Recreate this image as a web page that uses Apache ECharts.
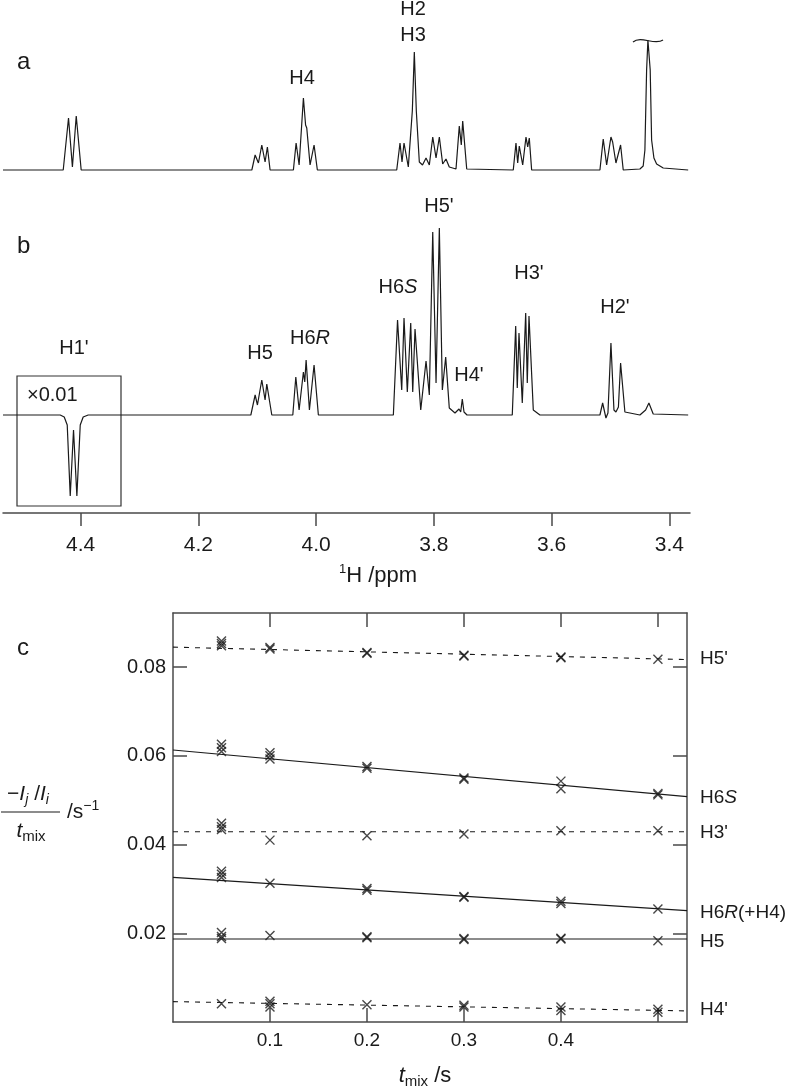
<!DOCTYPE html>
<html>
<head>
<meta charset="utf-8">
<script src="https://cdn.jsdelivr.net/npm/echarts@6.0.0/dist/echarts.min.js"></script>
<style>
html, body { margin: 0; padding: 0; background: #fff; }
#chart { width: 800px; height: 1092px; }
</style>
</head>
<body>
<div id="chart"></div>
<script>
// spectrum axis (ppm, reversed)
const ppmMin = 3.365;
const ppmMax = 4.532;
const ppmTicks = [4.4, 4.2, 4.0, 3.8, 3.6, 3.4];

// trace a: 1D reference spectrum, [ppm, height]
const specA = [
  [4.532, 0],
  [4.4297, 0], [4.4207, 52], [4.4141, 3], [4.4076, 54], [4.3992, 0],
  [4.1093, 0], [4.1037, 15], [4.0981, 7], [4.0924, 25], [4.0868, 8], [4.0829, 23], [4.0783, 0],
  [4.0387, 0], [4.0341, 27], [4.0290, 5], [4.0217, 72], [4.0180, 45], [4.0160, 42], [4.0104, 5], [4.0036, 25], [3.9980, 0],
  [3.8632, 0], [3.8576, 27], [3.8542, 8], [3.8508, 27], [3.8435, 3], [3.8406, 4], [3.8367, 59], [3.8333, 118],
  [3.8299, 59], [3.8248, 8], [3.8194, 5], [3.8134, 12], [3.8078, 5], [3.8020, 33], [3.7964, 12], [3.7908, 33],
  [3.7851, 6], [3.7795, 11], [3.7739, 3], [3.7625, 1], [3.7569, 44], [3.7535, 25], [3.7511, 49], [3.7443, 1],
  [3.6652, 0], [3.6606, 27], [3.6577, 7], [3.6550, 24], [3.6492, 5], [3.6436, 33], [3.6407, 23], [3.6380, 32], [3.6340, 0],
  [3.5540, 0], [3.5520, 2], [3.5500, 0],
  [3.5180, 0], [3.5124, 31], [3.5066, 5], [3.4993, 33], [3.4964, 28], [3.4908, 7], [3.4829, 25], [3.4784, 0],
  [3.4501, 1], [3.4445, 4], [3.4416, 20], [3.4387, 100], [3.4365, 130], [3.4343, 130], [3.4326, 100],
  [3.4302, 30], [3.4263, 12], [3.4217, 6], [3.4105, 2], [3.3681, 0]
];

// trace b: selective NOESY, H1' inverted and scaled x0.01
const specB = [
  [4.532, 0],
  [4.4348, 0], [4.4280, -2], [4.4229, -10], [4.4178, -81], [4.4122, -15], [4.4065, -81], [4.4008, -10], [4.3958, -2], [4.3873, 0],
  [4.1110, 0], [4.1037, 20], [4.0998, 10], [4.0924, 35], [4.0868, 15], [4.0839, 31], [4.0754, 0],
  [4.0397, 0], [4.0346, 38], [4.0290, 5], [4.0217, 43], [4.0194, 33], [4.0171, 55], [4.0115, 5], [4.0036, 50], [3.9963, 0],
  [3.8689, 0], [3.8618, 95], [3.8547, 25], [3.8508, 97], [3.8452, 23], [3.8394, 92], [3.8360, 23], [3.8321, 86],
  [3.8224, 5], [3.8134, 54], [3.8078, 20], [3.8020, 183], [3.7964, 32], [3.7908, 187], [3.7857, 25], [3.7800, 58],
  [3.7739, 7], [3.7642, 2], [3.7574, 6], [3.7545, 3], [3.7518, 16], [3.7489, 3], [3.7438, 0],
  [3.6669, 0], [3.6611, 89], [3.6584, 27], [3.6555, 82], [3.6499, 12], [3.6441, 102], [3.6414, 32], [3.6385, 99], [3.6312, 5], [3.6199, 0],
  [3.5180, 0], [3.5134, 12], [3.5078, -3], [3.5044, 2], [3.4993, 72], [3.4942, 5], [3.4908, 3], [3.4866, 8],
  [3.4829, 52], [3.4756, 3], [3.4501, 0], [3.4404, 5], [3.4348, 12], [3.4275, 1], [3.3681, 0]
];

// panel c: build-up rates vs mixing time
const tmix = [0.05, 0.1, 0.2, 0.3, 0.4, 0.5];
const tTicks = [0.1, 0.2, 0.3, 0.4, 0.5];
const tLabels = [0.1, 0.2, 0.3, 0.4];
const rTicks = [0.02, 0.04, 0.06, 0.08];

const rateH5p = [[0.0859, 0.0853, 0.0848], [0.0844, 0.0841], [0.0833, 0.0831], [0.0827, 0.0825], [0.0823, 0.0821], [0.0818]];
const rateH6S = [[0.0626, 0.0618, 0.0610], [0.0607, 0.0600, 0.0593], [0.0576, 0.0572], [0.0550, 0.0547], [0.0543, 0.0526], [0.0515, 0.0512]];
const rateH3p = [[0.0448, 0.0440, 0.0434], [0.0410], [0.0420], [0.0424], [0.0431], [0.0431]];
const rateH6R = [[0.0340, 0.0333, 0.0326], [0.0313], [0.0301, 0.0297], [0.0283, 0.0281], [0.0272, 0.0267], [0.0255]];
const rateH5 = [[0.0202, 0.0193, 0.0188], [0.0195], [0.0192, 0.0190], [0.0188, 0.0186], [0.0189, 0.0187], [0.0183]];
const rateH4p = [[0.0041], [0.0047, 0.0041, 0.0034], [0.0039], [0.0038, 0.0034], [0.0034, 0.0026], [0.0029, 0.0022]];

// fitted lines, value at t = 0 and t = 0.53
const fitT = [0, 0.53];
const fitH5p = [0.0845, 0.0817];
const fitH6S = [0.0613, 0.0508];
const fitH3p = [0.0429, 0.0429];
const fitH6R = [0.0326, 0.0251];
const fitH5 = [0.0187, 0.0187];
const fitH4p = [0.0046, 0.0025];

const font = 'Liberation Sans, Arial, sans-serif';
const ink = '#1a1a1a';
const frame = '#4a4a4a';

function reps(vals) {
  const out = [];
  vals.forEach((arr, i) => arr.forEach(v => out.push([tmix[i], v])));
  return out;
}
function fit(vals, dashed) {
  return {
    type: 'line', xAxisIndex: 2, yAxisIndex: 2,
    data: fitT.map((t, i) => [t, vals[i]]),
    showSymbol: false, silent: true,
    lineStyle: { color: ink, width: 1.1, type: dashed ? [5, 6] : 'solid' }
  };
}
function marks(vals) {
  return {
    type: 'scatter', xAxisIndex: 2, yAxisIndex: 2,
    data: reps(vals),
    symbol: 'path://M0 0L10 10M10 0L0 10',
    symbolSize: 9,
    itemStyle: { color: 'rgba(0,0,0,0)', borderColor: ink, borderWidth: 1.4 }
  };
}
function txt(x, y, text, opts) {
  return {
    type: 'text', x: x, y: y,
    style: Object.assign({
      text: text, fontSize: 20, fontFamily: font, fill: ink,
      align: 'center', verticalAlign: 'middle'
    }, opts || {})
  };
}
const richIt = {
  n: { fontSize: 20, fontFamily: font, fill: ink },
  i: { fontSize: 20, fontFamily: font, fontStyle: 'italic', fill: ink }
};
const richIt19 = {
  n: { fontSize: 19, fontFamily: font, fill: ink },
  i: { fontSize: 19, fontFamily: font, fontStyle: 'italic', fill: ink }
};

const chart = echarts.init(document.getElementById('chart'));

chart.setOption({
  animation: false,
  grid: [
    { left: 3, right: 110, top: 20, height: 160 },
    { left: 3, right: 110, top: 190, height: 323 },
    { left: 173, right: 113, top: 613, height: 409 }
  ],
  xAxis: [
    { gridIndex: 0, type: 'value', min: ppmMin, max: ppmMax, inverse: true, show: false },
    {
      gridIndex: 1, type: 'value', min: ppmMin, max: ppmMax, inverse: true,
      axisLine: { onZero: false, lineStyle: { color: frame, width: 1.5 } },
      axisTick: { customValues: ppmTicks, length: 13, lineStyle: { color: frame, width: 1.5 } },
      axisLabel: { customValues: ppmTicks, formatter: v => v.toFixed(1), fontSize: 21, fontFamily: font, color: ink, margin: 22 },
      splitLine: { show: false }
    },
    {
      gridIndex: 2, type: 'value', min: 0, max: 0.53, position: 'bottom',
      axisLine: { onZero: false, lineStyle: { color: frame, width: 1.5 } },
      axisTick: { inside: true, customValues: tTicks, length: 14, lineStyle: { color: frame, width: 1.5 } },
      axisLabel: { customValues: tLabels, formatter: v => v.toFixed(1), fontSize: 19, fontFamily: font, color: ink, margin: 9 },
      splitLine: { show: false }
    },
    {
      gridIndex: 2, type: 'value', min: 0, max: 0.53, position: 'top',
      axisLine: { onZero: false, lineStyle: { color: frame, width: 1.5 } },
      axisTick: { inside: true, customValues: tTicks, length: 14, lineStyle: { color: frame, width: 1.5 } },
      axisLabel: { show: false },
      splitLine: { show: false }
    }
  ],
  yAxis: [
    { gridIndex: 0, type: 'value', min: -10, max: 150, show: false },
    { gridIndex: 1, type: 'value', min: -98, max: 225, show: false },
    {
      gridIndex: 2, type: 'value', min: 0, max: 0.0922, position: 'left',
      axisLine: { show: true, onZero: false, lineStyle: { color: frame, width: 1.5 } },
      axisTick: { show: true, inside: true, customValues: rTicks, length: 14, lineStyle: { color: frame, width: 1.5 } },
      axisLabel: { customValues: rTicks, formatter: v => v.toFixed(2), fontSize: 20, fontFamily: font, color: ink, margin: 7 },
      splitLine: { show: false }
    },
    {
      gridIndex: 2, type: 'value', min: 0, max: 0.0922, position: 'right',
      axisLine: { show: true, onZero: false, lineStyle: { color: frame, width: 1.5 } },
      axisTick: { show: true, inside: true, customValues: rTicks, length: 14, lineStyle: { color: frame, width: 1.5 } },
      axisLabel: { show: false },
      splitLine: { show: false }
    }
  ],
  series: [
    { type: 'line', xAxisIndex: 0, yAxisIndex: 0, data: specA, showSymbol: false, silent: true, lineStyle: { color: ink, width: 1.2 } },
    { type: 'line', xAxisIndex: 1, yAxisIndex: 1, data: specB, showSymbol: false, silent: true, lineStyle: { color: ink, width: 1.2 } },
    fit(fitH5p, true), fit(fitH6S, false), fit(fitH3p, true),
    fit(fitH6R, false), fit(fitH5, false), fit(fitH4p, true),
    marks(rateH5p), marks(rateH6S), marks(rateH3p),
    marks(rateH6R), marks(rateH5), marks(rateH4p)
  ],
  graphic: [
    // panel letters
    txt(17, 62, 'a', { fontSize: 24, align: 'left' }),
    txt(17, 246, 'b', { fontSize: 24, align: 'left' }),
    txt(17, 648, 'c', { fontSize: 24, align: 'left' }),
    // spectrum a labels
    txt(302, 78, 'H4'),
    txt(413, 9, 'H2'),
    txt(413, 35, 'H3'),
    // truncation mark on the tall peak
    {
      type: 'bezierCurve',
      shape: { x1: 633, y1: 42, cpx1: 641, cpy1: 35, cpx2: 655, cpy2: 46, x2: 663, y2: 40 },
      style: { stroke: ink, fill: null, lineWidth: 1.2 }
    },
    // spectrum b labels
    txt(74, 348, "H1'"),
    txt(260, 353, 'H5'),
    txt(310, 338, '{n|H6}{i|R}', { rich: richIt }),
    txt(398, 287, '{n|H6}{i|S}', { rich: richIt }),
    txt(439, 206, "H5'"),
    txt(469, 375, "H4'"),
    txt(529, 273, "H3'"),
    txt(615, 307, "H2'"),
    {
      type: 'rect',
      shape: { x: 17, y: 376, width: 104, height: 130 },
      style: { fill: null, stroke: '#333', lineWidth: 1.2 }
    },
    txt(27, 395, '\u00d70.01', { align: 'left' }),
    // ppm axis title
    txt(378, 576, '{sup|1}{n|H /ppm}', {
      rich: {
        n: { fontSize: 22, fontFamily: font, fill: ink, lineHeight: 26 },
        sup: { fontSize: 13, fontFamily: font, fill: ink, verticalAlign: 'top', lineHeight: 26 }
      }
    }),
    // panel c right labels
    txt(700, 659, "H5'", { align: 'left', fontSize: 19 }),
    txt(700, 798, '{n|H6}{i|S}', { align: 'left', rich: richIt19 }),
    txt(700, 833, "H3'", { align: 'left', fontSize: 19 }),
    txt(700, 913, '{n|H6}{i|R}{n|(+H4)}', { align: 'left', rich: richIt19 }),
    txt(700, 942, 'H5', { align: 'left', fontSize: 19 }),
    txt(700, 1010, "H4'", { align: 'left', fontSize: 19 }),
    // panel c y title: (-Ij/Ii)/tmix /s-1
    txt(28, 794, '{n|\u2212}{it|I}{sub|j}{n| /}{it|I}{sub|i}', {
      rich: {
        n: { fontSize: 21, fontFamily: font, fill: ink, lineHeight: 26 },
        it: { fontSize: 21, fontFamily: font, fontStyle: 'italic', fill: ink, lineHeight: 26 },
        sub: { fontSize: 14, fontFamily: font, fontStyle: 'italic', fill: ink, verticalAlign: 'bottom', lineHeight: 26 }
      }
    }),
    {
      type: 'line',
      shape: { x1: 1, y1: 812, x2: 60, y2: 812 },
      style: { stroke: ink, lineWidth: 1.2 }
    },
    txt(31, 831, '{it|t}{sub|mix}', {
      rich: {
        it: { fontSize: 21, fontFamily: font, fontStyle: 'italic', fill: ink, lineHeight: 26 },
        sub: { fontSize: 15, fontFamily: font, fill: ink, verticalAlign: 'bottom', lineHeight: 26 }
      }
    }),
    txt(67, 812, '{n|/s}{sup|\u22121}', {
      align: 'left',
      rich: {
        n: { fontSize: 21, fontFamily: font, fill: ink, lineHeight: 26 },
        sup: { fontSize: 14, fontFamily: font, fill: ink, verticalAlign: 'top', lineHeight: 26 }
      }
    }),
    // panel c x title
    txt(425, 1076, '{it|t}{sub|mix}{n| /s}', {
      rich: {
        n: { fontSize: 22, fontFamily: font, fill: ink, lineHeight: 26 },
        it: { fontSize: 22, fontFamily: font, fontStyle: 'italic', fill: ink, lineHeight: 26 },
        sub: { fontSize: 15, fontFamily: font, fill: ink, verticalAlign: 'bottom', lineHeight: 26 }
      }
    })
  ]
});

window.addEventListener('resize', () => {
  chart.resize();
});
</script>
</body>
</html>
